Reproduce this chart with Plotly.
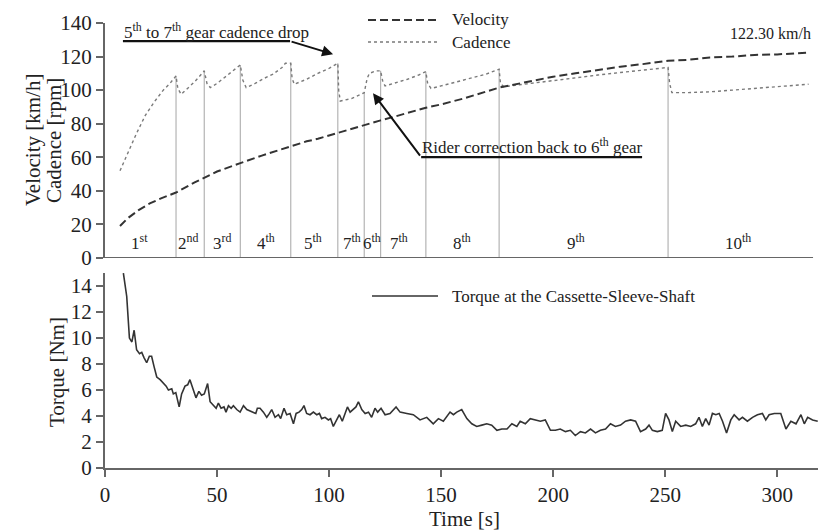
import numpy as np
import plotly.graph_objects as go

# ---------------- data ----------------
vel_t = [6.7, 10, 15, 20, 25, 31.7, 40, 44.3, 50, 60.4, 70, 82.9, 90, 95, 103.9, 110, 115.7,
         123, 130, 143.2, 150, 160, 175.9, 185, 200, 210, 220, 230, 240, 251.3, 260, 270,
         280, 290, 300, 314]
vel_v = [19, 23.5, 28.5, 32.5, 35.5, 39, 45, 48, 51.5, 56.5, 61, 66.5, 69.5, 71, 74.5, 77, 79.5,
         82, 84.5, 89.5, 91.5, 95, 101.5, 104, 108, 110, 112, 114, 115.5, 117.5, 118, 119.5,
         120, 121, 121.3, 122.3]

cad_t = [6.7, 10, 14, 18, 22, 26, 29, 31.7,
         32.5, 34, 37, 40, 42, 44.3,
         45.5, 47, 50, 53, 56, 58.5, 60.4,
         61.5, 63, 67, 71, 75, 79, 80.5, 82.9,
         83.5, 84.5, 90, 95, 100, 103.9,
         104.3, 105, 110, 115.7,
         117, 118, 121, 123,
         124, 125, 130, 135, 140, 143.2,
         144, 145.5, 150, 160, 170, 175.9,
         176.5, 178, 190, 200, 210, 220, 230, 240, 251.3,
         252, 253, 260, 270, 280, 290, 300, 314]
cad_v = [52, 62, 74, 85, 93, 100, 104, 108.5,
         101, 97.5, 101, 105, 108, 111.5,
         104, 101.5, 104, 107, 110, 113, 115,
         106, 101.5, 104, 107, 109.5, 113.5, 116, 116,
         107, 103.5, 106.5, 110, 113, 116,
         100, 93.5, 95, 98.5,
         107, 110, 111.5, 111.5,
         105, 102.5, 104.5, 106.5, 109, 111,
         104, 101, 102.5, 106, 109.5, 112.5,
         104, 102, 104, 106, 107.5, 109, 110.5, 112, 113.5,
         104, 98.5, 98.5, 99, 100, 101, 102, 103.5]

shift_t = [31.7, 44.3, 60.4, 82.9, 103.9, 115.7, 123, 143.2, 175.9, 251.3]
gear_labels = ["1<sup>st</sup>", "2<sup>nd</sup>", "3<sup>rd</sup>", "4<sup>th</sup>", "5<sup>th</sup>",
               "7<sup>th</sup>", "6<sup>th</sup>", "7<sup>th</sup>", "8<sup>th</sup>", "9<sup>th</sup>",
               "10<sup>th</sup>"]
gear_label_t = [15.3, 37.2, 52.4, 71.9, 93, 110.4, 119, 131, 159.5, 210, 282.6]

tq_t = [8.2, 9.7, 10.9, 12.0, 13.0, 14.1, 15.4, 16.4, 17.4, 18.6, 19.8, 20.8, 21.9, 23.1, 24.6,
        26.1, 27.3, 28.3, 29.8, 30.5, 31.6, 33.1, 34.2, 35.7, 36.9, 37.9, 39.1, 40.6, 41.9, 43.1,
        44.3, 45.8, 46.9, 48.4, 49.6, 50.6, 51.8, 53.1, 54.0, 55.1, 56.3, 57.3, 58.8, 60.3, 61.8,
        63.3, 64.7, 66.2, 67.3, 68.0, 69.2, 70.7, 72.2, 73.4, 74.4, 75.9, 77.4, 78.4, 79.9, 81.1,
        82.6, 84.1, 85.3, 86.6, 87.8, 88.8, 90.0, 91.5, 93.0, 94.5, 95.7, 96.7, 98.2, 99.7, 100.7,
        101.9, 103.4, 104.6, 105.9, 107.1, 108.2, 109.4, 110.9, 112.0, 113.1, 114.6, 116.1, 117.6,
        119.0, 120.5, 121.7, 123.2, 125.0, 127.2, 129.9, 131.7, 134.7, 137.6, 140.6, 143.6, 146.5,
        148.8, 151.0, 154.0, 155.5, 157.0, 159.2, 161.5, 163.7, 165.9, 168.2, 170.4, 172.6, 174.9,
        177.1, 179.4, 181.6, 183.8, 185.3, 187.6, 189.8, 192.1, 194.3, 196.5, 198.8, 201.0, 203.2,
        205.5, 207.7, 209.9, 212.2, 214.4, 216.7, 218.9, 221.1, 223.4, 225.6, 227.8, 230.1, 232.3,
        234.6, 236.8, 239.0, 241.3, 242.8, 244.3, 246.5, 248.7, 250.2, 251.7, 253.2, 254.7, 256.9,
        259.2, 261.4, 263.6, 265.1, 266.6, 268.1, 269.6, 271.1, 272.6, 274.1, 275.6, 277.4, 279.3,
        280.8, 283.0, 284.5, 286.7, 289.0, 291.2, 293.4, 294.9, 296.4, 298.7, 301.6, 303.9, 306.1,
        308.4, 310.6, 312.1, 313.6, 315.8, 318.1]
tq_v = [15.0, 13.2, 10.0, 9.7, 10.6, 9.1, 8.8, 8.9, 8.5, 8.1, 8.6, 8.6, 7.8, 7.0, 6.8,
        6.5, 6.3, 6.0, 6.1, 5.7, 5.8, 4.7, 5.7, 6.3, 6.4, 6.8, 6.1, 5.4, 5.9, 5.6,
        5.7, 6.5, 5.1, 4.8, 4.6, 5.0, 4.6, 4.7, 4.3, 4.8, 4.6, 4.8, 4.5, 4.3, 4.8,
        4.5, 4.4, 4.3, 4.2, 4.6, 4.6, 4.3, 3.9, 4.2, 4.5, 3.9, 4.1, 3.8, 4.6, 4.1,
        4.2, 3.4, 4.2, 4.3, 4.5, 4.8, 4.2, 4.1, 4.3, 4.1, 4.2, 3.8, 3.9, 3.7, 3.8,
        3.2, 3.7, 4.1, 3.6, 4.2, 4.7, 4.3, 4.5, 4.7, 5.1, 4.5, 4.2, 4.3,
        3.9, 4.6, 4.3, 4.6, 4.1, 4.2, 4.7, 4.3, 4.2, 4.1, 3.7, 3.9, 3.4,
        3.8, 3.6, 4.3, 4.1, 4.3, 4.5, 3.8, 3.4, 3.2, 3.3, 3.4, 3.3, 2.9,
        3.0, 3.0, 3.4, 3.2, 3.6, 3.4, 3.8, 3.7, 3.6, 3.7, 2.9, 2.9, 3.0,
        2.8, 2.9, 2.5, 2.8, 2.7, 3.0, 2.7, 2.9, 3.0, 3.4, 3.2, 3.3, 3.6,
        3.7, 3.6, 2.8, 3.0, 3.3, 2.9, 2.8, 2.9, 4.2, 3.7, 2.8, 3.6, 3.2,
        3.3, 3.2, 3.4, 3.9, 3.2, 3.8, 3.3, 4.2, 4.1, 4.2, 3.6, 2.7, 3.7,
        4.1, 3.7, 3.9, 3.6, 3.9, 4.1, 4.2, 3.7, 4.1, 4.2, 4.2, 3.0, 3.6,
        3.4, 4.1, 3.4, 3.9, 3.7, 3.6]

x_ticks = [0, 50, 100, 150, 200, 250, 300]
top_y_ticks = [0, 20, 40, 60, 80, 100, 120, 140]
bot_y_ticks = [0, 2, 4, 6, 8, 10, 12, 14]

# ---------------- figure ----------------
FONT = "Liberation Serif"
TXT = "#222222"
AX = "#666666"

# the page body has an 8px margin: shrink the figure so that the plot area
# lands at x 105..822, y 23..468 in the 826x530 window
PAGE_OFF = 8
fig = go.Figure()

peaks = np.interp(shift_t, cad_t, cad_v)
gx, gy = [], []
for t, p in zip(shift_t, peaks):
    gx += [t, t, None]
    gy += [0, p, None]
fig.add_trace(go.Scatter(x=gx, y=gy, mode="lines", line=dict(color="#b4b4b4", width=1.2),
                         hoverinfo="skip", showlegend=False, xaxis="x", yaxis="y"))

fig.add_trace(go.Scatter(x=cad_t, y=cad_v, mode="lines", name="Cadence",
                         line=dict(color="#7a7a7a", width=1.4, dash="dot"),
                         showlegend=False, xaxis="x", yaxis="y"))
fig.add_trace(go.Scatter(x=vel_t, y=vel_v, mode="lines", name="Velocity",
                         line=dict(color="#333333", width=2, dash="8px,4px"),
                         showlegend=False, xaxis="x", yaxis="y"))
fig.add_trace(go.Scatter(x=tq_t, y=tq_v, mode="lines", name="Torque at the Cassette-Sleeve-Shaft",
                         line=dict(color="#333333", width=1.6),
                         showlegend=False, xaxis="x2", yaxis="y2"))

axis_common = dict(showgrid=False, zeroline=False, linecolor=AX, linewidth=2,
                   ticks="outside", ticklen=7, tickwidth=1.5, tickcolor=AX,
                   tickfont=dict(family=FONT, size=21, color=TXT))

fig.update_layout(
    width=826 - PAGE_OFF, height=530 - PAGE_OFF,
    margin=dict(l=105 - PAGE_OFF, r=4, t=23 - PAGE_OFF, b=62),
    paper_bgcolor="white", plot_bgcolor="white",
    font=dict(family=FONT, color=TXT),
    xaxis=dict(domain=[0, 1], range=[0, 320], showline=False, showticklabels=False,
               showgrid=False, zeroline=False, anchor="y"),
    yaxis=dict(domain=[0.472, 1], range=[0, 140], tickvals=top_y_ticks, showline=True,
               anchor="x", **axis_common),
    xaxis2=dict(domain=[0, 1], range=[0, 320], tickvals=x_ticks, showline=True,
                anchor="y2", **axis_common),
    yaxis2=dict(domain=[0, 0.438], range=[0, 15], tickvals=bot_y_ticks, showline=True,
                anchor="x2", **axis_common),
)

fig.add_shape(type="line", xref="x", yref="y", x0=0, x1=316, y0=0, y1=0,
              line=dict(color=AX, width=2))

annotations = []
for lab, t in zip(gear_labels, gear_label_t):
    annotations.append(dict(x=t, y=9.5, xref="x", yref="y", text=lab, showarrow=False,
                            font=dict(family=FONT, size=17, color=TXT)))

annotations.append(dict(x=7.6, y=135, xref="x", yref="y", xanchor="left", yanchor="middle",
                        text="5<sup>th</sup> to 7<sup>th</sup> gear cadence drop", showarrow=False,
                        font=dict(family=FONT, size=17, color=TXT)))
fig.add_shape(type="line", xref="x", yref="y", x0=8, x1=82.6, y0=129.2, y1=129.2,
              line=dict(color="#111111", width=2.2))
annotations.append(dict(x=101.8, y=121.4, ax=82.6, ay=129.2, xref="x", yref="y", axref="x", ayref="y",
                        text="", showarrow=True, arrowhead=2, arrowsize=1.1, arrowwidth=2,
                        arrowcolor="#111111", standoff=0, startstandoff=0))

annotations.append(dict(x=140.6, y=66.5, xref="x", yref="y", xanchor="left", yanchor="middle",
                        text="Rider correction back to 6<sup>th</sup> gear", showarrow=False,
                        font=dict(family=FONT, size=17, color=TXT)))
fig.add_shape(type="line", xref="x", yref="y", x0=141.1, x1=239.7, y0=60.1, y1=60.1,
              line=dict(color="#111111", width=2.2))
annotations.append(dict(x=119.6, y=98.2, ax=141.1, ay=60.1, xref="x", yref="y", axref="x", ayref="y",
                        text="", showarrow=True, arrowhead=2, arrowsize=1.1, arrowwidth=2,
                        arrowcolor="#111111", standoff=0, startstandoff=0))

annotations.append(dict(x=316, y=134, xref="x", yref="y", xanchor="right", yanchor="middle",
                        text="122.30 km/h", showarrow=False,
                        font=dict(family=FONT, size=16, color=TXT)))

def px2paper_x(px):
    return (px - 105) / 717.0

def px2paper_y(py):
    return (468 - py) / 445.0

fig.add_shape(type="line", xref="paper", yref="paper", x0=px2paper_x(368), x1=px2paper_x(438),
              y0=px2paper_y(20), y1=px2paper_y(20), line=dict(color="#333333", width=2, dash="8px,4px"))
fig.add_shape(type="line", xref="paper", yref="paper", x0=px2paper_x(368), x1=px2paper_x(440),
              y0=px2paper_y(42), y1=px2paper_y(42), line=dict(color="#7a7a7a", width=1.4, dash="dot"))
fig.add_shape(type="line", xref="paper", yref="paper", x0=px2paper_x(372), x1=px2paper_x(438),
              y0=px2paper_y(296), y1=px2paper_y(296), line=dict(color="#333333", width=1.6))
for txt, py in [("Velocity", 20), ("Cadence", 42), ("Torque at the Cassette-Sleeve-Shaft", 296)]:
    annotations.append(dict(x=px2paper_x(450), y=px2paper_y(py), xref="paper", yref="paper",
                            xanchor="left", yanchor="middle", text=txt, showarrow=False,
                            font=dict(family=FONT, size=17, color=TXT)))

annotations.append(dict(x=px2paper_x(33), y=px2paper_y(140), xref="paper", yref="paper",
                        text="Velocity [km/h]", textangle=-90, showarrow=False,
                        xanchor="center", yanchor="middle", font=dict(family=FONT, size=21, color=TXT)))
annotations.append(dict(x=px2paper_x(54), y=px2paper_y(140), xref="paper", yref="paper",
                        text="Cadence [rpm]", textangle=-90, showarrow=False,
                        xanchor="center", yanchor="middle", font=dict(family=FONT, size=21, color=TXT)))
annotations.append(dict(x=px2paper_x(57), y=px2paper_y(372), xref="paper", yref="paper",
                        text="Torque [Nm]", textangle=-90, showarrow=False,
                        xanchor="center", yanchor="middle", font=dict(family=FONT, size=21, color=TXT)))
annotations.append(dict(x=px2paper_x(464), y=px2paper_y(519), xref="paper", yref="paper",
                        text="Time [s]", showarrow=False,
                        xanchor="center", yanchor="middle", font=dict(family=FONT, size=21, color=TXT)))

fig.update_layout(annotations=annotations)

fig.write_html("out.html")
